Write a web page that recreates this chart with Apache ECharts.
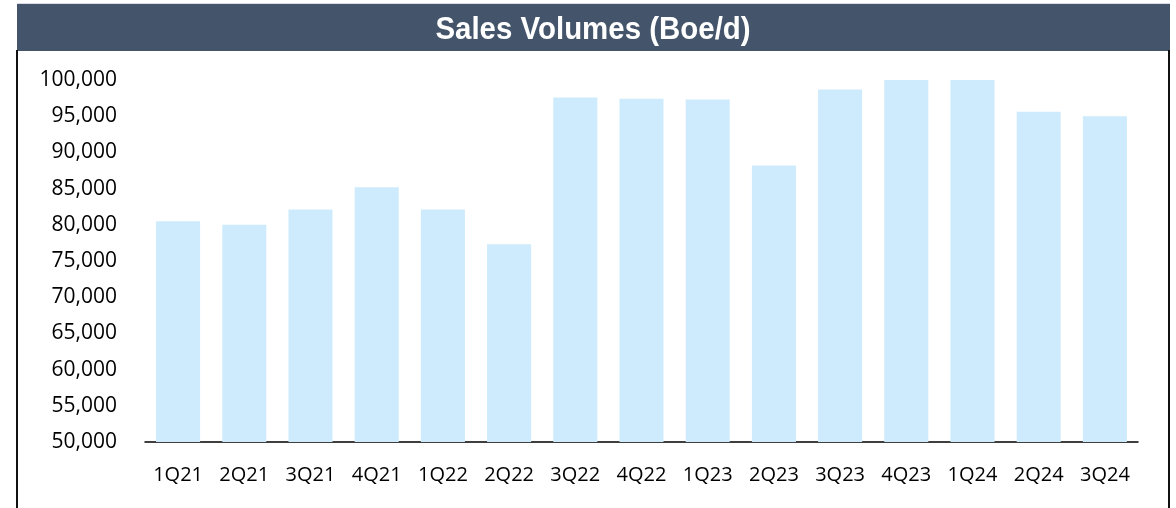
<!DOCTYPE html>
<html>
<head>
<meta charset="utf-8">
<script src="https://cdn.jsdelivr.net/npm/echarts@6/dist/echarts.min.js"></script>
<style>
  html, body { margin: 0; padding: 0; background: #fff; }
  #chart { width: 1176px; height: 508px; }
</style>
</head>
<body>
<div id="chart"></div>
<script>
const categories = ['1Q21', '2Q21', '3Q21', '4Q21', '1Q22', '2Q22', '3Q22', '4Q22',
  '1Q23', '2Q23', '3Q23', '4Q23', '1Q24', '2Q24', '3Q24'];
const salesVolumes = [80500, 80000, 82100, 85200, 82100, 77300, 97600, 97400,
  97300, 88200, 98700, 100000, 100000, 95600, 95000];
const yMin = 50000;
const yMax = 100000;
const yStep = 5000;

const chart = echarts.init(document.getElementById('chart'));

const option = {
  animation: false,
  graphic: [
    // header band
    { type: 'rect', shape: { x: 17, y: 3, width: 1153, height: 1 }, style: { fill: '#d9dde3' }, z: 0 },
    { type: 'rect', shape: { x: 17, y: 4, width: 1153, height: 47 }, style: { fill: '#44546a' }, z: 0 },
    // title, slightly condensed like the original narrow face
    {
      type: 'text',
      x: 593,
      y: 30,
      scaleX: 0.92,
      z: 1,
      style: {
        text: 'Sales Volumes (Boe/d)',
        fill: '#ffffff',
        font: 'bold 32px "Liberation Sans", Arial, sans-serif',
        align: 'center',
        verticalAlign: 'middle'
      }
    },
    // frame sides
    { type: 'rect', shape: { x: 16, y: 50, width: 2, height: 460 }, style: { fill: '#111111' }, z: 0 },
    { type: 'rect', shape: { x: 1168, y: 50, width: 2, height: 460 }, style: { fill: '#111111' }, z: 0 }
  ],
  grid: {
    left: 145,
    right: 38,
    top: 80,
    bottom: 66,
    containLabel: false
  },
  xAxis: {
    type: 'category',
    data: categories,
    axisLine: { show: true, lineStyle: { color: '#000000', width: 1.5 } },
    axisTick: { show: false },
    axisLabel: {
      color: '#000000',
      fontFamily: 'Open Sans',
      fontSize: 20,
      margin: 23
    }
  },
  yAxis: {
    type: 'value',
    min: yMin,
    max: yMax,
    interval: yStep,
    splitLine: { show: false },
    axisLine: { show: false },
    axisTick: { show: false },
    axisLabel: {
      color: '#000000',
      fontFamily: 'Open Sans',
      fontSize: 21,
      margin: 28,
      formatter: v => v.toLocaleString('en-US')
    }
  },
  series: [
    {
      name: 'Sales Volumes',
      type: 'bar',
      data: salesVolumes,
      barCategoryGap: '33.5%',
      itemStyle: { color: '#cdebfd' }
    }
  ]
};

chart.setOption(option);
window.addEventListener('resize', () => {
  chart.resize();
});
</script>
</body>
</html>
